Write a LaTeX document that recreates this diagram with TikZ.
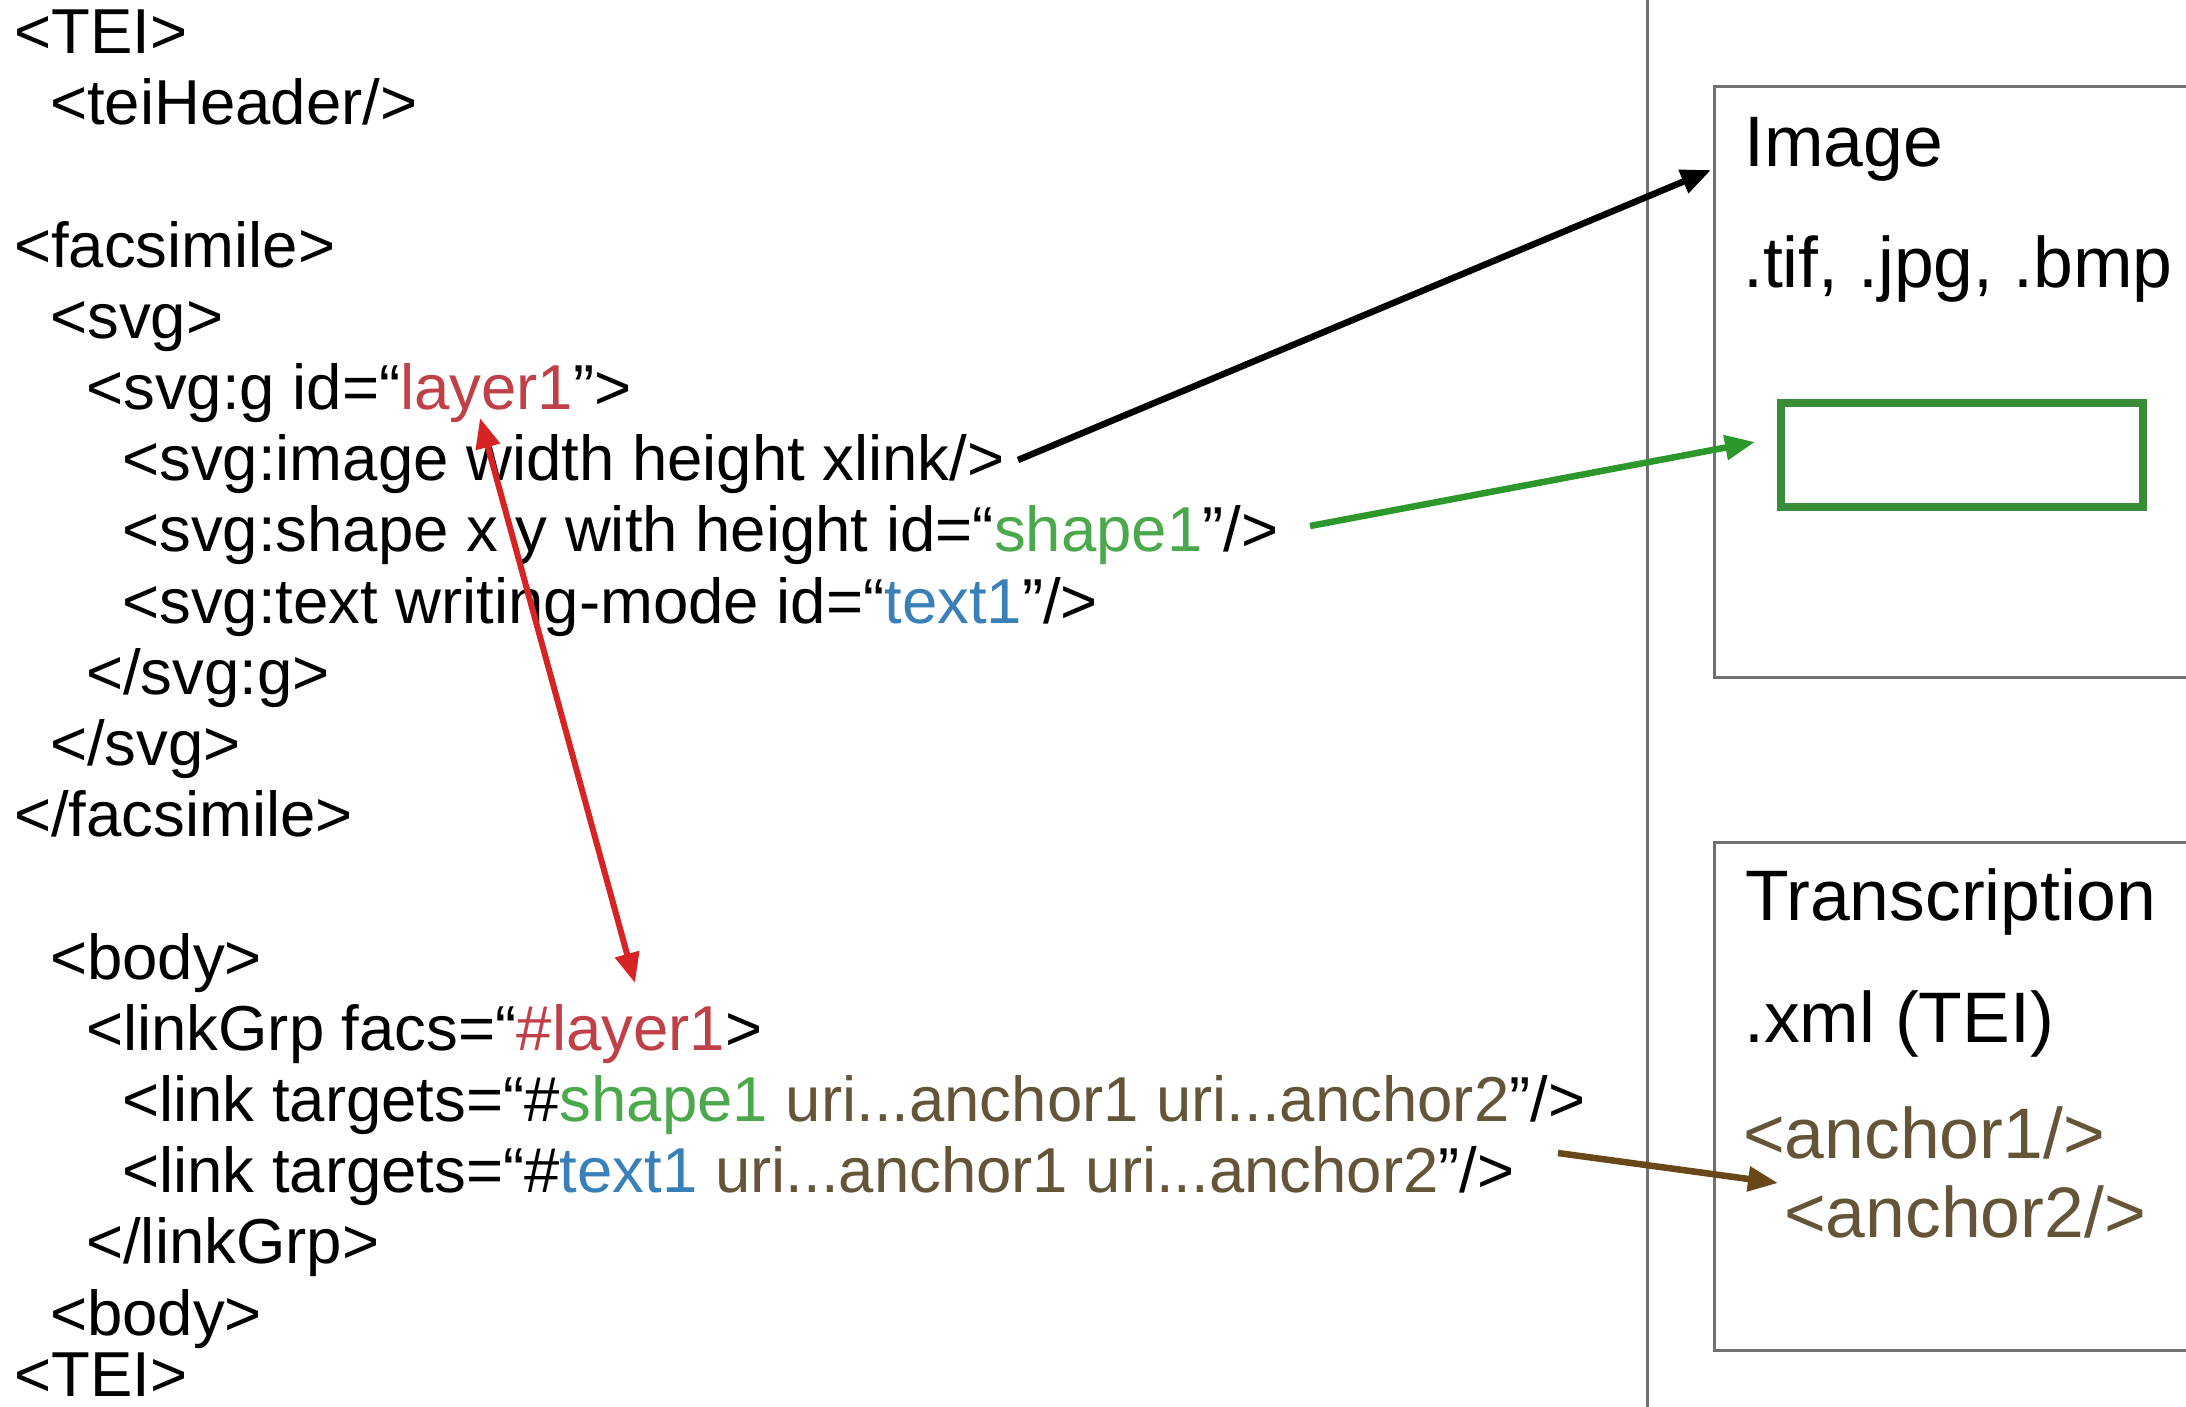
\documentclass[tikz,border=0pt]{standalone}
\usepackage{fontspec}
\setmainfont{Liberation Sans}
\usetikzlibrary{arrows.meta}
\definecolor{cred}{RGB}{192,64,72}
\definecolor{ared}{RGB}{214,36,36}
\definecolor{cgreen}{RGB}{76,168,76}
\definecolor{agreen}{RGB}{44,152,44}
\definecolor{rgreen}{RGB}{56,140,56}
\definecolor{cblue}{RGB}{58,128,184}
\definecolor{cbrown}{RGB}{100,84,56}
\definecolor{abrown}{RGB}{104,72,24}
\definecolor{boxgray}{RGB}{112,112,112}
\begin{document}
\begin{tikzpicture}[x=1pt,y=-1pt,
  code/.style={anchor=base west, inner sep=0pt, font=\fontsize{63.5}{71}\selectfont},
  rtext/.style={anchor=base west, inner sep=0pt, font=\fontsize{71.5}{80}\selectfont},
  panel/.style={draw=boxgray, line width=3pt, anchor=north west, inner sep=0pt},
  arr/.style={line width=6.5pt, -{Triangle[length=30pt,width=24pt]}},
  darr/.style={line width=6pt, {Triangle[length=30pt,width=24pt]}-{Triangle[length=30pt,width=24pt]}}]
\useasboundingbox (0,0) rectangle (2186,1406);
\fill[white] (0,0) rectangle (2186,1406);
\clip (0,0) rectangle (2186,1406);

% separator
\draw[boxgray, line width=3pt] (1647,-5) -- (1647,1420);

% panels
\node[panel, minimum width=520pt, minimum height=591pt] (imgbox) at (1713,85) {};
\node[panel, minimum width=520pt, minimum height=508pt] (trbox) at (1713,841) {};
\node[draw=rgreen, line width=8pt, anchor=north west, inner sep=0pt, minimum width=362pt, minimum height=104pt] (shaperect) at (1777,399) {};

% right texts
\node[rtext] (timg) at (1744,166) {Image};
\node[rtext] (tfmt) at (1743,287) {.tif, .jpg, .bmp};
\node[rtext] (ttr) at (1745,920) {Transcription};
\node[rtext] (txml) at (1744,1042) {.xml (TEI)};
\node[rtext, text=cbrown] (ta1) at (1743,1158) {<anchor1/>};
\node[rtext, text=cbrown] (ta2) at (1784,1237) {<anchor2/>};

% code lines
\node[code] (l0) at (14,53) {<TEI>};
\node[code] (l1) at (50,124) {<teiHeader/>};
\node[code] (l3) at (14,267) {<facsimile>};
\node[code] (l4) at (50,338) {<svg>};
\node[code] (l5) at (86,409) {<svg:g id=“\textcolor{cred}{layer1}”>};
\node[code] (l6) at (122,480) {<svg:image width height xlink/>};
\node[code] (l7) at (122,551) {<svg:shape x y with height id=“\textcolor{cgreen}{shape1}”/>};
\node[code] (l8) at (122,623) {<svg:text writing-mode id=“\textcolor{cblue}{text1}”/>};
\node[code] (l9) at (86,694) {</svg:g>};
\node[code] (l10) at (50,765) {</svg>};
\node[code] (l11) at (14,836) {</facsimile>};
\node[code] (l13) at (50,979) {<body>};
\node[code] (l14) at (86,1050) {<linkGrp facs=“\textcolor{cred}{\#layer1}>};
\node[code] (l15) at (122,1121) {<link targets=“\#\textcolor{cgreen}{shape1} \textcolor{cbrown}{uri...anchor1 uri...anchor2}”/>};
\node[code] (l16) at (122,1192) {<link targets=“\#\textcolor{cblue}{text1} \textcolor{cbrown}{uri...anchor1 uri...anchor2}”/>};
\node[code] (l17) at (86,1263) {</linkGrp>};
\node[code] (l18) at (50,1335) {<body>};
\node[code] (l19) at (14,1396) {<TEI>};

% connector ends
\coordinate (imgsrc) at (1018,460);
\coordinate (imgtip) at (1711,170);
\coordinate (shpsrc) at (1310,526);
\coordinate (shptip) at (1755,442);
\coordinate (laytop) at (480,418);
\coordinate (laybot) at (635,983);
\coordinate (ancsrc) at (1558,1153);
\coordinate (anctip) at (1778,1183);

\draw[arr, black] (imgsrc) -- (imgtip);
\draw[arr, agreen] (shpsrc) -- (shptip);
\draw[darr, ared] (laytop) -- (laybot);
\draw[arr, abrown] (ancsrc) -- (anctip);
\end{tikzpicture}
\end{document}
